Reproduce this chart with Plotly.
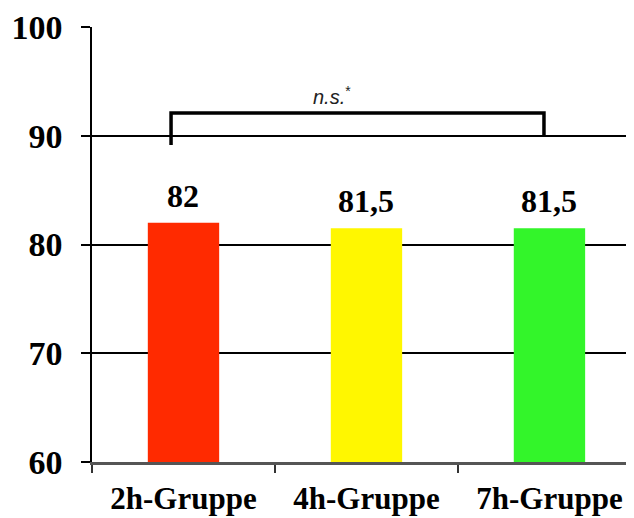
import plotly.graph_objects as go

categories = ["2h-Gruppe", "4h-Gruppe", "7h-Gruppe"]
values = [82, 81.5, 81.5]
value_labels = ["82", "81,5", "81,5"]
colors = ["#FF2A00", "#FFF700", "#33F52A"]
y_ticks = [60, 70, 80, 90, 100]

serif = "Liberation Serif, Times New Roman, serif"

fig = go.Figure()
fig.add_trace(go.Bar(
    x=categories, y=values, marker=dict(color=colors, line=dict(width=0)),
    width=0.39, base=0,
))

for c, v, t in zip(categories, values, value_labels):
    fig.add_annotation(x=c, y=v, text="<b>%s</b>" % t, showarrow=False,
                       yanchor="bottom", yshift=7,
                       font=dict(family=serif, size=32, color="black"))

# significance bracket
fig.add_shape(type="path",
              path="M -0.068,89.15 L -0.068,92.1 L 1.97,92.1 L 1.97,90",
              line=dict(color="black", width=3.5), xref="x", yref="y")
fig.add_annotation(x=0.81, y=93.7, text="<i>n.s.</i><sup>*</sup>", showarrow=False,
                   font=dict(family="Liberation Sans, Arial, sans-serif", size=20, color="#222"))

fig.update_layout(
    width=626, height=510,
    margin=dict(l=84, r=0, t=19, b=56),
    paper_bgcolor="white", plot_bgcolor="white",
    showlegend=False,
    xaxis=dict(
        type="category", range=[-0.5, 2.462],
        tickmode="array", tickvals=categories,
        ticktext=["<b>%s</b>" % c for c in categories],
        tickson="boundaries", ticks="outside", ticklen=8, tickwidth=1.5, tickcolor="#333",
        showline=True, linecolor="#555", linewidth=3, showgrid=False,
        tickfont=dict(family=serif, size=31, color="black"),
        ticklabelstandoff=7, automargin=False,
    ),
    yaxis=dict(
        range=[60, 100], tickmode="array", tickvals=y_ticks,
        ticktext=["<b>%d</b>" % v for v in y_ticks],
        ticks="outside", ticklen=9, tickwidth=1.5, tickcolor="black",
        showline=True, linecolor="black", linewidth=1.5,
        showgrid=True, gridcolor="black", gridwidth=1.5,
        tickfont=dict(family=serif, size=34, color="black"),
        ticklabelstandoff=12, zeroline=False, automargin=False,
    ),
)

fig.write_html("out.html")
